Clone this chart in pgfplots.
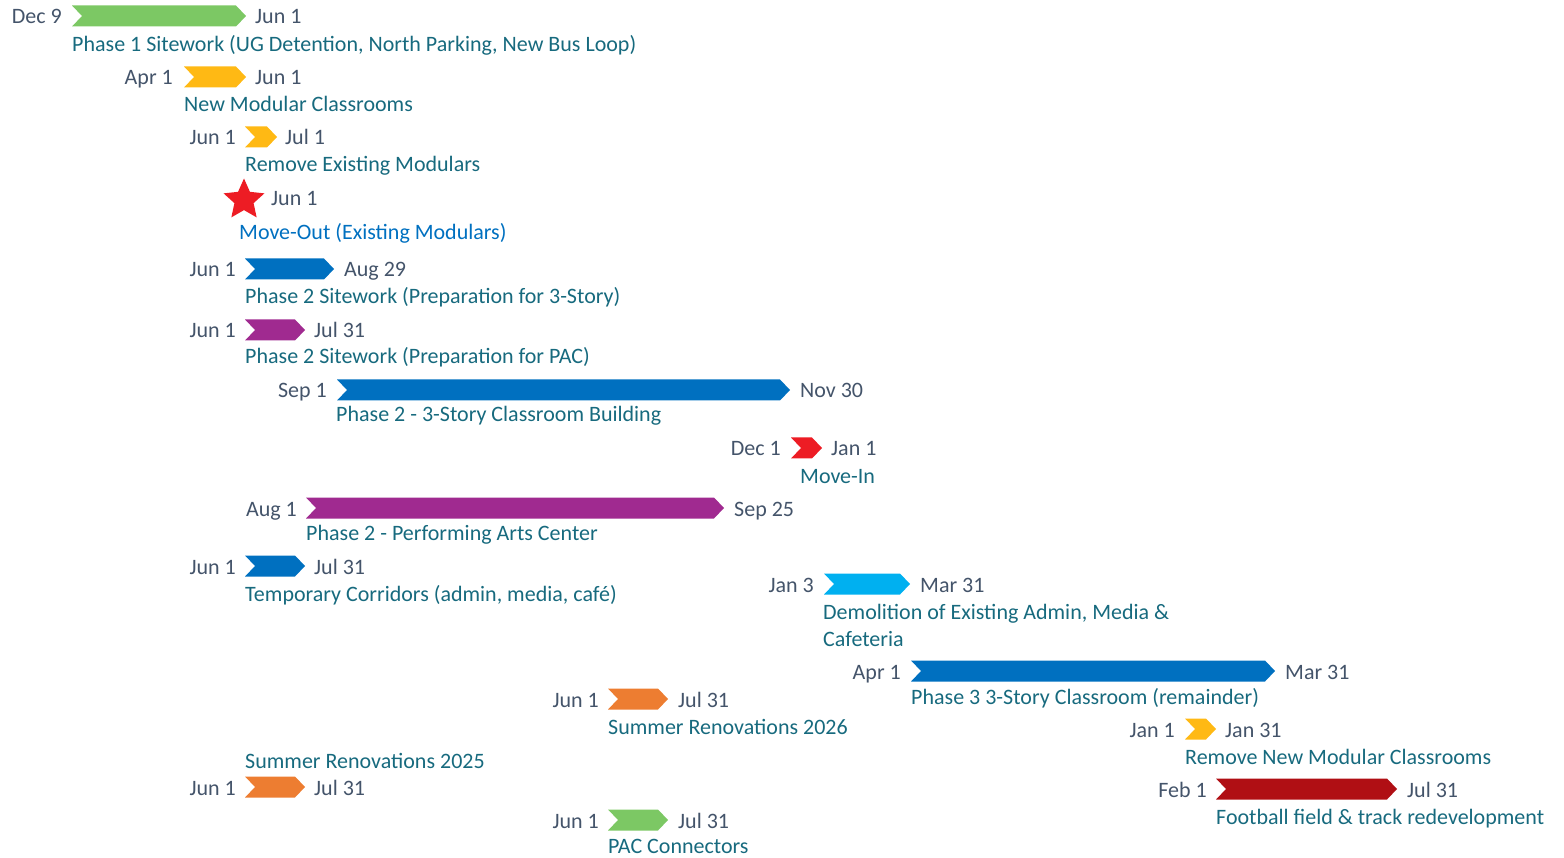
\documentclass[border=0pt]{standalone}
\usepackage{pgfplots}
\pgfplotsset{compat=1.18}
\usepackage{fontspec}
\setmainfont{Carlito}
\definecolor{cgreen}{HTML}{7CC864}
\definecolor{cyellow}{HTML}{FFB914}
\definecolor{cblue}{HTML}{0070C0}
\definecolor{cpurple}{HTML}{A02A90}
\definecolor{cred}{HTML}{ED1C24}
\definecolor{clblue}{HTML}{00B0F0}
\definecolor{corange}{HTML}{ED7D31}
\definecolor{cdred}{HTML}{B00F14}
\definecolor{cteal}{HTML}{176A7E}
\definecolor{cgrey}{HTML}{44546A}
\pgfdeclareplotmark{fstar}{%
  \pgfpathmoveto{\pgfpointpolar{90}{\pgfplotmarksize}}%
  \pgfpathlineto{\pgfpointpolar{126}{0.47*\pgfplotmarksize}}%
  \pgfpathlineto{\pgfpointpolar{162}{\pgfplotmarksize}}%
  \pgfpathlineto{\pgfpointpolar{198}{0.47*\pgfplotmarksize}}%
  \pgfpathlineto{\pgfpointpolar{234}{\pgfplotmarksize}}%
  \pgfpathlineto{\pgfpointpolar{270}{0.47*\pgfplotmarksize}}%
  \pgfpathlineto{\pgfpointpolar{306}{\pgfplotmarksize}}%
  \pgfpathlineto{\pgfpointpolar{342}{0.47*\pgfplotmarksize}}%
  \pgfpathlineto{\pgfpointpolar{18}{\pgfplotmarksize}}%
  \pgfpathlineto{\pgfpointpolar{54}{0.47*\pgfplotmarksize}}%
  \pgfpathclose\pgfusepathqfill}
\begin{document}
\fontsize{22}{26}\selectfont
\begin{tikzpicture}[
  dl/.style={anchor=base east, inner sep=0pt, text=cgrey, font=\fontsize{22}{26}\selectfont},
  dr/.style={anchor=base west, inner sep=0pt, text=cgrey, font=\fontsize{22}{26}\selectfont},
  lb/.style={anchor=base west, inner sep=0pt, text=cteal, font=\fontsize{22}{26}\selectfont}]
\begin{axis}[scale only axis, width=1564pt, height=858pt,
  xmin=0, xmax=1564, ymin=0, ymax=858, y dir=reverse, hide axis, clip=false]
% chevrons
\addplot[fill=cgreen, draw=none] coordinates {(72,5.5)(236,5.5)(246,16)(236,26.5)(72,26.5)(82,16)} --cycle;
\addplot[fill=cyellow, draw=none] coordinates {(184,66.5)(236,66.5)(246,77)(236,87.5)(184,87.5)(194,77)} --cycle;
\addplot[fill=cyellow, draw=none] coordinates {(245,126.5)(267,126.5)(277,137)(267,147.5)(245,147.5)(255,137)} --cycle;
\addplot[fill=cblue, draw=none] coordinates {(245,258.5)(324,258.5)(334,269)(324,279.5)(245,279.5)(255,269)} --cycle;
\addplot[fill=cpurple, draw=none] coordinates {(245,319.5)(295,319.5)(305,330)(295,340.5)(245,340.5)(255,330)} --cycle;
\addplot[fill=cblue, draw=none] coordinates {(337,379.5)(780,379.5)(790,390)(780,400.5)(337,400.5)(347,390)} --cycle;
\addplot[fill=cred, draw=none] coordinates {(791,437.5)(812,437.5)(822,448)(812,458.5)(791,458.5)(801,448)} --cycle;
\addplot[fill=cpurple, draw=none] coordinates {(306,497.5)(714,497.5)(724,508)(714,518.5)(306,518.5)(316,508)} --cycle;
\addplot[fill=cblue, draw=none] coordinates {(245,555.5)(295,555.5)(305,566)(295,576.5)(245,576.5)(255,566)} --cycle;
\addplot[fill=clblue, draw=none] coordinates {(824,573.5)(900,573.5)(910,584)(900,594.5)(824,594.5)(834,584)} --cycle;
\addplot[fill=cblue, draw=none] coordinates {(911,660.5)(1265,660.5)(1275,671)(1265,681.5)(911,681.5)(921,671)} --cycle;
\addplot[fill=corange, draw=none] coordinates {(608,688.5)(658,688.5)(668,699)(658,709.5)(608,709.5)(618,699)} --cycle;
\addplot[fill=cyellow, draw=none] coordinates {(1185,718.5)(1206,718.5)(1216,729)(1206,739.5)(1185,739.5)(1195,729)} --cycle;
\addplot[fill=corange, draw=none] coordinates {(245,776.5)(295,776.5)(305,787)(295,797.5)(245,797.5)(255,787)} --cycle;
\addplot[fill=cdred, draw=none] coordinates {(1216,778.5)(1387,778.5)(1397,789)(1387,799.5)(1216,799.5)(1226,789)} --cycle;
\addplot[fill=cgreen, draw=none] coordinates {(608,809.5)(658,809.5)(668,820)(658,830.5)(608,830.5)(618,820)} --cycle;
% milestone star
\addplot[only marks, mark=fstar, mark size=21.5pt, color=cred] coordinates {(244,200)};
% labels
\node[dl] at (axis cs:62,24) {Dec 9};
\node[dr] at (axis cs:255,24) {Jun 1};
\node[lb] at (axis cs:72,52) {Phase 1 Sitework (UG Detention, North Parking, New Bus Loop)};
\node[dl] at (axis cs:173,85) {Apr 1};
\node[dr] at (axis cs:255,85) {Jun 1};
\node[lb] at (axis cs:184,112) {New Modular Classrooms};
\node[dl] at (axis cs:236,145) {Jun 1};
\node[dr] at (axis cs:285,145) {Jul 1};
\node[lb] at (axis cs:245,172) {Remove Existing Modulars};
\node[dr] at (axis cs:271,206) {Jun 1};
\node[lb, text=cblue] at (axis cs:239,240) {Move-Out (Existing Modulars)};
\node[dl] at (axis cs:236,277) {Jun 1};
\node[dr] at (axis cs:344,277) {Aug 29};
\node[lb] at (axis cs:245,304) {Phase 2 Sitework (Preparation for 3-Story)};
\node[dl] at (axis cs:236,338) {Jun 1};
\node[dr] at (axis cs:314,338) {Jul 31};
\node[lb] at (axis cs:245,364) {Phase 2 Sitework (Preparation for PAC)};
\node[dl] at (axis cs:327,398) {Sep 1};
\node[dr] at (axis cs:800,398) {Nov 30};
\node[lb] at (axis cs:336,422) {Phase 2 - 3-Story Classroom Building};
\node[dl] at (axis cs:781,456) {Dec 1};
\node[dr] at (axis cs:831,456) {Jan 1};
\node[lb] at (axis cs:800,483) {Move-In};
\node[dl] at (axis cs:297,516) {Aug 1};
\node[dr] at (axis cs:734,516) {Sep 25};
\node[lb] at (axis cs:306,540) {Phase 2 - Performing Arts Center};
\node[dl] at (axis cs:236,574) {Jun 1};
\node[dr] at (axis cs:314,574) {Jul 31};
\node[lb] at (axis cs:245,601) {Temporary Corridors (admin, media, café)};
\node[dl] at (axis cs:814,592) {Jan 3};
\node[dr] at (axis cs:920,592) {Mar 31};
\node[lb] at (axis cs:823,619) {Demolition of Existing Admin, Media \&};
\node[lb] at (axis cs:823,646) {Cafeteria};
\node[dl] at (axis cs:901,679) {Apr 1};
\node[dr] at (axis cs:1285,679) {Mar 31};
\node[lb] at (axis cs:911,704) {Phase 3 3-Story Classroom (remainder)};
\node[dl] at (axis cs:599,707) {Jun 1};
\node[dr] at (axis cs:678,707) {Jul 31};
\node[lb] at (axis cs:608,734) {Summer Renovations 2026};
\node[dl] at (axis cs:1175,737) {Jan 1};
\node[dr] at (axis cs:1225,737) {Jan 31};
\node[lb] at (axis cs:1185,764) {Remove New Modular Classrooms};
\node[lb] at (axis cs:245,768) {Summer Renovations 2025};
\node[dl] at (axis cs:236,795) {Jun 1};
\node[dr] at (axis cs:314,795) {Jul 31};
\node[dl] at (axis cs:1207,797) {Feb 1};
\node[dr] at (axis cs:1407,797) {Jul 31};
\node[lb] at (axis cs:1216,824) {Football field \& track redevelopment};
\node[dl] at (axis cs:599,828) {Jun 1};
\node[dr] at (axis cs:678,828) {Jul 31};
\node[lb] at (axis cs:608,853) {PAC Connectors};
\end{axis}
\pgfresetboundingbox
\path[use as bounding box] (current axis.south west) rectangle (current axis.north east);
\end{tikzpicture}
\end{document}
